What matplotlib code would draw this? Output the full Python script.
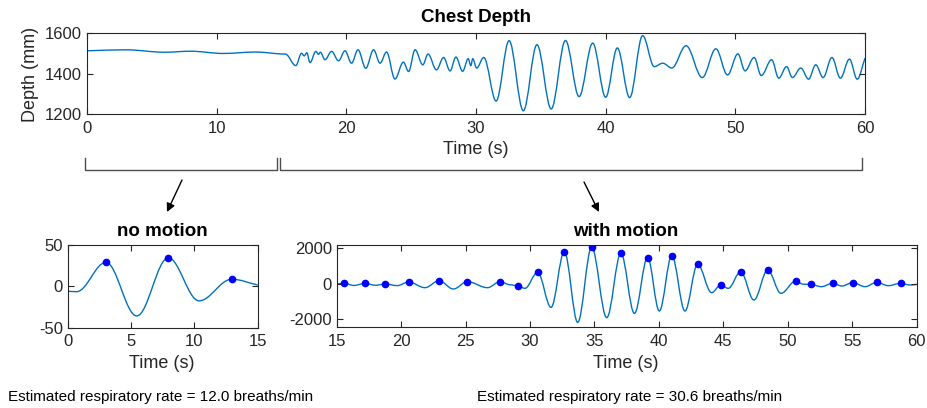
import numpy as np
import matplotlib
matplotlib.use("Agg")
import matplotlib.pyplot as plt
from matplotlib.path import Path
from matplotlib.patches import PathPatch, FancyArrowPatch

plt.rcParams['font.family'] = ['Liberation Sans', 'DejaVu Sans']
plt.rcParams['axes.unicode_minus'] = False

# ---- Chest depth over the full minute: turning points (s, mm) ----
depth_t = [0, 3, 6, 8, 10.5, 13, 15.3, 16.1, 16.55, 16.75, 16.95, 17.2, 17.65, 17.85,
           18.0, 18.35, 18.86, 19.4, 19.9, 20.4, 20.9, 21.5, 22.1, 22.6, 23.1, 23.75,
           24.4, 24.8, 25.3, 25.9, 26.3, 26.95, 27.5, 28.0, 28.45, 28.97, 29.4, 29.6,
           29.75, 30.05, 30.6, 31.55, 32.55, 33.65, 34.7, 35.8, 36.9, 37.95, 39.0,
           40.0, 40.9, 41.85, 42.85, 43.75, 44.4, 45.1, 46.2, 47.45, 48.5, 49.4, 50.2,
           50.75, 51.45, 52.0, 52.8, 53.35, 53.95, 54.4, 55.05, 55.65, 56.2, 56.77,
           57.45, 58.1, 58.8, 59.4, 60]
depth_mm = [1512, 1517, 1505, 1510, 1499, 1506, 1496, 1439, 1500, 1487, 1502, 1454, 1509, 1495,
            1505, 1468, 1509, 1463, 1512, 1451, 1517, 1426, 1517, 1451, 1506, 1373,
            1456, 1410, 1517, 1443, 1496, 1418, 1479, 1413, 1481, 1411, 1473, 1439,
            1473, 1427, 1479, 1264, 1562, 1216, 1542, 1225, 1563, 1286, 1550,
            1283, 1526, 1281, 1587, 1434, 1451, 1427, 1537, 1380, 1522, 1393, 1497,
            1413, 1479, 1390, 1468, 1377, 1434, 1380, 1427, 1372, 1443, 1380,
            1479, 1377, 1471, 1372, 1476]

# ---- Filtered signal, no motion (0-15 s) ----
still_peak_t = [3.02, 7.94, 12.95]
still_peak_v = [29, 34.5, 8.5]
still_other_t = [0.0, 0.7, 5.45, 10.37, 15.0]
still_other_v = [-6, -6.6, -36, -17.7, 1.5]

# ---- Filtered signal, with motion (15-60 s) ----
motion_peak_t = [15.57, 17.2, 18.77, 20.58, 22.94, 25.13, 27.67, 29.09, 30.59, 32.66,
                 34.78, 37.05, 39.12, 41.0, 43.0, 44.79, 46.34, 48.44, 50.61, 51.77,
                 53.48, 55.03, 56.89, 58.75]
motion_peak_v = [19, 19, -19, 94, 170, 113, 113, -132, 642, 1811,
                 2057, 1717, 1480, 1585, 1094, -75, 679, 774, 151, -38,
                 19, 57, 75, 19]
motion_other_t = [15.0, 16.35, 18.0, 19.7, 21.85, 24.05, 26.7, 28.45, 29.6, 31.63,
                  33.7, 35.95, 38.1, 40.03, 42.02, 44.09, 45.38, 47.37, 49.47, 51.2,
                  52.6, 54.2, 56.0, 57.8, 59.5, 60.0]
motion_other_v = [-19, -100, -90, -110, -226, -302, -226, -60, -264, -1340,
                  -2189, -1925, -1680, -1547, -1547, -509, -264, -925, -547, -30,
                  -170, -132, -170, -113, -75, -40]

rate_still = 12.0
rate_motion = 30.6

LINE = '#0072BD'
AXC = '#262626'


def smooth_curve(ax, t, v, k=0.36, **kw):
    """Draw a smooth curve through turning points with cubic Bezier segments."""
    order = np.argsort(t)
    t = np.asarray(t, float)[order]
    v = np.asarray(v, float)[order]
    m = np.zeros_like(v)
    m[0] = (v[1] - v[0]) / (t[1] - t[0])
    m[-1] = (v[-1] - v[-2]) / (t[-1] - t[-2])
    verts = [(t[0], v[0])]
    codes = [Path.MOVETO]
    for i in range(len(t) - 1):
        dt = t[i + 1] - t[i]
        verts += [(t[i] + k * dt, v[i] + m[i] * k * dt),
                  (t[i + 1] - k * dt, v[i + 1] - m[i + 1] * k * dt),
                  (t[i + 1], v[i + 1])]
        codes += [Path.CURVE4] * 3
    ax.add_patch(PathPatch(Path(verts, codes), fill=False, **kw))


def style(ax):
    for s in ax.spines.values():
        s.set_color(AXC)
        s.set_linewidth(0.8)
    ax.tick_params(direction='in', top=True, right=True, length=4, width=0.8,
                   color=AXC, labelcolor=AXC, labelsize=12)
    ax.tick_params(axis='x', pad=5)
    ax.tick_params(axis='y', pad=3.5)


W, H = 928, 408
fig = plt.figure(figsize=(W / 100, H / 100), dpi=100)


def fax(l, r, t, b):
    return fig.add_axes([l / W, 1 - b / H, (r - l) / W, (b - t) / H])


# Top: raw chest depth
ax1 = fax(87, 865, 33, 114)
smooth_curve(ax1, depth_t, depth_mm, edgecolor=LINE, lw=1.0)
ax1.set_xlim(0, 60)
ax1.set_ylim(1200, 1600)
ax1.set_xticks(range(0, 61, 10))
ax1.set_yticks([1200, 1400, 1600])
style(ax1)

# Bottom left: no motion
ax2 = fax(67.7, 257.7, 245, 327.5)
smooth_curve(ax2, still_peak_t + still_other_t, still_peak_v + still_other_v,
             edgecolor=LINE, lw=1.0)
ax2.plot(still_peak_t, still_peak_v, 'o', color='#0000FF', ms=4.5, zorder=3)
ax2.set_xlim(0, 15)
ax2.set_ylim(-50, 50)
ax2.set_xticks([0, 5, 10, 15])
ax2.set_yticks([-50, 0, 50])
style(ax2)

# Bottom right: with motion
ax3 = fax(336.7, 916.7, 245, 327.3)
smooth_curve(ax3, motion_peak_t + motion_other_t, motion_peak_v + motion_other_v,
             edgecolor=LINE, lw=1.0)
ax3.plot(motion_peak_t, motion_peak_v, 'o', color='#0000FF', ms=4.5, zorder=3)
ax3.set_xlim(15, 60)
ax3.set_ylim(-2470, 2190)
ax3.set_xticks(range(15, 61, 5))
ax3.set_yticks([-2000, 0, 2000])
style(ax3)


def ftext(x, y, s, **kw):
    fig.text(x / W, 1 - y / H, s, **kw)


ftext(476, 18, 'Chest Depth', ha='center', va='center', fontsize=13.5, fontweight='bold')
ftext(476, 150, 'Time (s)', ha='center', va='center', fontsize=13, color=AXC)
ftext(31, 74, 'Depth (mm)', ha='center', va='center', fontsize=13, rotation=90, color=AXC)
ftext(162, 231, 'no motion', ha='center', va='center', fontsize=13.5, fontweight='bold')
ftext(626, 231, 'with motion', ha='center', va='center', fontsize=13.5, fontweight='bold')
ftext(162, 363, 'Time (s)', ha='center', va='center', fontsize=13, color=AXC)
ftext(626, 363, 'Time (s)', ha='center', va='center', fontsize=13, color=AXC)
ftext(8, 397, f'Estimated respiratory rate = {rate_still:.1f} breaths/min',
      ha='left', va='center', fontsize=11)
ftext(477, 397, f'Estimated respiratory rate = {rate_motion:.1f} breaths/min',
      ha='left', va='center', fontsize=11)


# Brackets marking the two segments
def bracket(x0, x1, y_top=158, y_bot=170):
    xs = [x0, x0, x1, x1]
    ys = [y_top, y_bot, y_bot, y_top]
    fig.add_artist(plt.Line2D([x / W for x in xs], [1 - y / H for y in ys],
                              color='#4d4d4d', lw=1.0, transform=fig.transFigure))


bracket(85.5, 276.5)
bracket(280.5, 862)

# Arrows pointing to the detail panels
for (xa, ya), (xb, yb) in [((182, 180), (167, 212)), ((584, 182), (599, 212))]:
    fig.add_artist(FancyArrowPatch(
        (xa / W, 1 - ya / H), (xb / W, 1 - yb / H), transform=fig.transFigure,
        arrowstyle='-|>,head_length=5,head_width=2.5', color='black', lw=1.0,
        shrinkA=0, shrinkB=0))

fig.savefig('out.png', dpi=100)
